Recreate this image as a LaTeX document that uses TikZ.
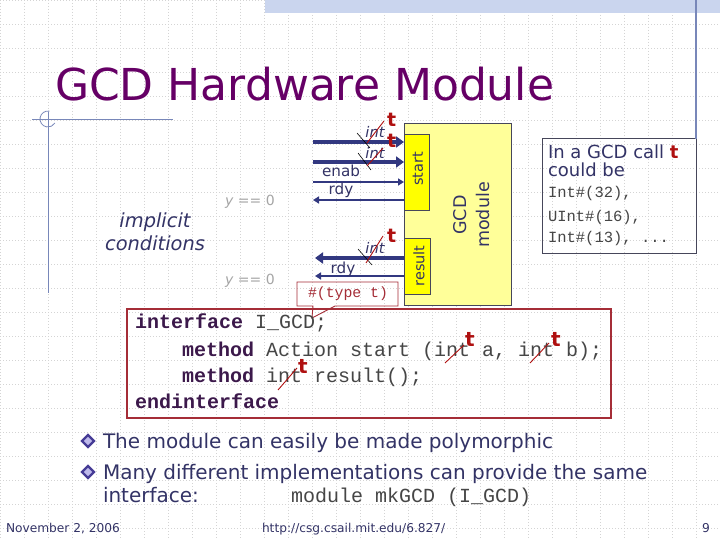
\documentclass[tikz,border=0pt]{standalone}
\usepackage{fontspec}
\setmainfont{DejaVu Sans}
\newfontfamily\codefont{Liberation Mono}
\usetikzlibrary{arrows.meta,shapes.geometric}
\definecolor{titlepurple}{RGB}{102,0,102}
\definecolor{navy}{RGB}{51,51,102}
\definecolor{arrowblue}{RGB}{50,56,128}
\definecolor{tred}{RGB}{175,16,16}
\definecolor{boxred}{RGB}{165,45,55}
\definecolor{modyellow}{RGB}{255,255,153}
\definecolor{startyellow}{RGB}{255,255,0}
\definecolor{barblue}{RGB}{202,213,238}
\definecolor{lineblue}{RGB}{120,135,185}
\definecolor{kwpurple}{RGB}{60,25,75}
\definecolor{codegray}{RGB}{70,70,70}
\definecolor{ygray}{RGB}{165,165,165}
\definecolor{gridgray}{RGB}{212,212,212}
\definecolor{boxgray}{RGB}{70,70,90}
\definecolor{bulletblue}{RGB}{70,60,150}
\definecolor{bulletlight}{RGB}{190,185,235}
\begin{document}
\begin{tikzpicture}[x=1pt,y=-1pt,
  every node/.style={inner sep=0pt,outer sep=0pt},
  txt/.style={anchor=base west,text=navy},
  gridline/.style={gridgray,line width=0.6pt,dash pattern=on 1pt off 2pt},
  busarrow/.style={arrowblue,line width=4pt,-{Triangle[length=8pt,width=11pt]}},
  sigarrow/.style={arrowblue,line width=2pt,-{Triangle[length=6pt,width=7pt]}},
  redt/.style={anchor=base west,text=tred,font=\bfseries\fontsize{19}{19}\selectfont},
  redslash/.style={tred,line width=0.9pt},
  busslash/.style={black,line width=0.6pt},
  intlbl/.style={anchor=base,text=navy,font=\itshape\fontsize{14.6}{15}\selectfont},
  siglbl/.style={anchor=base,text=navy,font=\fontsize{15.2}{16}\selectfont},
  codeline/.style={anchor=base west,text=codegray,font=\codefont\fontsize{20}{20}\selectfont},
  bulletmark/.style={diamond,draw=bulletblue,line width=2.2pt,fill=bulletlight,minimum size=12pt},
  bullettext/.style={anchor=base west,text=navy,font=\fontsize{20}{20}\selectfont},
  foot/.style={anchor=base west,text=navy,font=\fontsize{12.2}{13}\selectfont}]
\useasboundingbox (0,0) rectangle (720,540);
\fill[white] (0,0) rectangle (720,540);
% grid
\foreach \gx in {0,24,...,720} {\draw[gridline] (\gx,0) -- (\gx,540);}
\foreach \gy in {0,24,...,540} {\draw[gridline] (0,\gy) -- (720,\gy);}
% top bar and decorations
\fill[barblue] (265,0) rectangle (720,13);
\draw[lineblue,line width=1pt] (32,120) -- (173,120);
\draw[lineblue,line width=1pt] (48,112) -- (48,293);
\draw[lineblue,line width=0.8pt] ([shift={(-80:8)}]48,119) arc[start angle=-80,end angle=-330,radius=8];
% title
\node[anchor=base west,text=titlepurple,font=\fontsize{44}{48}\selectfont] (title) at (55,101) {GCD Hardware Module};
% module boxes
\node[draw=boxgray,line width=0.8pt,fill=modyellow,minimum width=107pt,minimum height=182pt,anchor=north west] (gcd) at (404,123) {};
\node[draw=boxgray,line width=0.8pt,fill=startyellow,minimum width=25pt,minimum height=76pt,anchor=north west] (startbox) at (404,134) {};
\node[draw=boxgray,line width=0.8pt,fill=startyellow,minimum width=26pt,minimum height=56pt,anchor=north west] (resultbox) at (404,238) {};
\node[rotate=90,text=navy,font=\fontsize{14.5}{15}\selectfont] (startlbl) at (418,169) {start};
\node[rotate=90,text=navy,font=\fontsize{14.5}{15}\selectfont] (resultlbl) at (419,266) {result};
\node[rotate=90,text=navy,align=center,font=\fontsize{17.5}{23}\selectfont] (gcdlbl) at (472,215) {GCD\\module};
% arrows
\coordinate (a1) at (313,142);
\coordinate (a2) at (313,162);
\coordinate (a3) at (313,182);
\coordinate (a4) at (313,200);
\coordinate (a5) at (315,258);
\coordinate (a6) at (315,276);
\draw[busarrow] (a1) -- (a1 -| startbox.west);
\draw[busarrow] (a2) -- (a2 -| startbox.west);
\draw[sigarrow] (a3) -- (a3 -| startbox.west);
\draw[sigarrow] (a4 -| startbox.west) -- (a4);
\draw[busarrow] (a5 -| resultbox.west) -- (a5);
\draw[sigarrow] (a6 -| resultbox.west) -- (a6);
% arrow labels
\node[intlbl] (int1) at (375,138) {int};
\node[intlbl] (int2) at (375,159) {int};
\node[intlbl] (int3) at (375,253) {int};
\draw[busslash] (357,133) -- (370,148);
\draw[busslash] (358,153) -- (371,170);
\draw[busslash] (358,249) -- (372,265);
\draw[redslash] (367,143) -- (384,121);
\draw[redslash] (367,166) -- (383,148);
\draw[redslash] (366,263) -- (383,236);
\node[redt] (t1) at (387,127) {t};
\node[redt] (t2) at (387,148) {t};
\node[redt] (t3) at (387,243) {t};
\node[siglbl] (enab) at (341,177) {enab};
\node[siglbl] (rdy1) at (341,195) {rdy};
\node[siglbl] (rdy2) at (343,273) {rdy};
% type callout
\node[text=boxred,font=\codefont\fontsize{14.8}{15}\selectfont] (typet) at (348,294) {\#(type t)};
\draw[boxred,line width=0.9pt] (297,282) -- (398,282) -- (398,306) -- (335,306) -- (312,318) -- (313,306) -- (297,306) -- cycle;
% implicit conditions
\node[anchor=base,text=navy,font=\itshape\fontsize{19.4}{20}\selectfont] (impl1) at (155,227) {implicit};
\node[anchor=base,text=navy,font=\itshape\fontsize{19.4}{20}\selectfont] (impl2) at (155,251) {conditions};
\node[anchor=base west,text=ygray,font=\fontsize{14}{15}\selectfont] (yz1) at (225,206) {\textit{y} == 0};
\node[anchor=base west,text=ygray,font=\fontsize{14}{15}\selectfont] (yz2) at (225,284) {\textit{y} == 0};
% right info box
\node[draw=boxgray,line width=1pt,minimum width=154pt,minimum height=114pt,anchor=north west] (tbox) at (542,139) {};
\coordinate (vtop) at (696,0);
\draw[lineblue,line width=1.2pt] (vtop) -- (tbox.north east);
\node[txt,font=\fontsize{18}{18}\selectfont] (tb1) at (548,159) {In a GCD call \textcolor{tred}{\bfseries t}};
\node[txt,font=\fontsize{18}{18}\selectfont] (tb2) at (548,177) {could be};
\node[anchor=base west,text=codegray,font=\codefont\fontsize{15.5}{16}\selectfont] (tb3) at (548,198) {Int\#(32),};
\node[anchor=base west,text=codegray,font=\codefont\fontsize{15.5}{16}\selectfont] (tb4) at (548,222) {UInt\#(16),};
\node[anchor=base west,text=codegray,font=\codefont\fontsize{15.5}{16}\selectfont] (tb5) at (548,243) {Int\#(13), ...};
% code box
\node[draw=boxred,line width=1.1pt,minimum width=484pt,minimum height=109pt,anchor=north west] (codebox) at (127,309) {};
\node[codeline] (c1) at (135,328) {\textcolor{kwpurple}{\bfseries interface} I\_GCD;};
\node[codeline] (c2) at (182,356) {\textcolor{kwpurple}{\bfseries method} Action start (int a, int b);};
\node[codeline] (c3) at (182,382) {\textcolor{kwpurple}{\bfseries method} int result();};
\node[codeline] (c4) at (135,408) {\textcolor{kwpurple}{\bfseries endinterface}};
\draw[redslash] (445,363) -- (464,345);
\draw[redslash] (530,363) -- (549,343);
\draw[redslash] (278,390) -- (297,368);
\node[redt,font=\bfseries\fontsize{20}{20}\selectfont] (ct1) at (465,346) {t};
\node[redt,font=\bfseries\fontsize{20}{20}\selectfont] (ct2) at (551,346) {t};
\node[redt,font=\bfseries\fontsize{20}{20}\selectfont] (ct3) at (298,373) {t};
% bullets
\node[bulletmark] (b1) at (88,441) {};
\node[bulletmark] (b2) at (88,472) {};
\node[bullettext] (bt1) at (103,448) {The module can easily be made polymorphic};
\node[bullettext] (bt2) at (103,479) {Many different implementations can provide the same};
\node[bullettext] (bt3) at (103,502) {interface:};
\node[anchor=base west,text=codegray,font=\codefont\fontsize{20}{20}\selectfont] (bt4) at (291,502) {module mkGCD (I\_GCD)};
% footer
\node[foot] (date) at (6,532) {November 2, 2006};
\node[foot] (url) at (262,532) {http://csg.csail.mit.edu/6.827/};
\node[foot] (pnum) at (702,532) {9};
\end{tikzpicture}
\end{document}
